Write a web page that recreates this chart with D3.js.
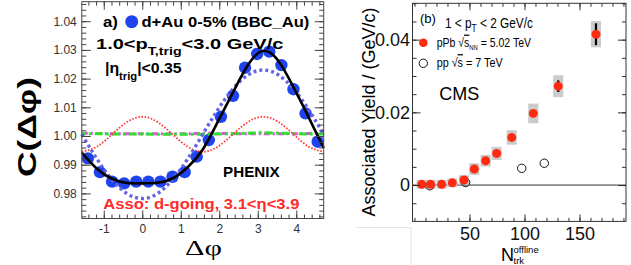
<!DOCTYPE html>
<meta charset="utf-8">
<title>Long-range correlations: PHENIX d+Au and CMS pPb</title>
<style>
body { margin: 0; background: #fff; }
svg text { font-family: "Liberation Sans", Arial, Helvetica, sans-serif; }
.bold { font-weight: bold; }
</style>
<svg id="chart" width="631" height="265"></svg>
<script src="https://d3js.org/d3.v7.min.js"></script>
<script>

// ---- panel (a) data: C(dphi), PHENIX d+Au 0-5%
var dphi = [-1.414, -1.100, -0.785, -0.471, -0.157, 0.157, 0.471, 0.785, 1.100, 1.414,
            1.728, 2.042, 2.356, 2.670, 2.985, 3.299, 3.613, 3.927, 4.241, 4.555];
var corr = [0.9922, 0.9874, 0.9841, 0.9835, 0.9841, 0.9841, 0.9841, 0.9858, 0.9874, 0.9928,
            0.9986, 1.0067, 1.0140, 1.0238, 1.0286, 1.0294, 1.0247, 1.0163, 1.0079, 0.9980];

// fit curves on a grid of dphi values
var curveX = [-1.571, -1.178, -0.785, -0.393, 0, 0.393, 0.785, 1.178, 1.571,
              1.963, 2.356, 2.749, 3.142, 3.534, 3.927, 4.320, 4.712];
var fitTotal = [0.9942, 0.9886, 0.9851, 0.9836, 0.9835, 0.9837, 0.9852, 0.9891, 0.9953,
                1.0050, 1.0152, 1.0248, 1.0297, 1.0262, 1.0170, 1.0066, 0.9958];
var fitV1 = [1.0006, 0.9920, 0.9848, 0.9799, 0.9782, 0.9799, 0.9848, 0.9920, 1.0006,
             1.0092, 1.0164, 1.0213, 1.0230, 1.0213, 1.0164, 1.0092, 1.0006];
var fitV2 = [0.9945, 0.9963, 1.0006, 1.0049, 1.0067, 1.0049, 1.0006, 0.9963, 0.9945,
             0.9963, 1.0006, 1.0049, 1.0067, 1.0049, 1.0006, 0.9963, 0.9945];
var fitV3 = [1.0008, 1.0008, 1.0007, 1.0007, 1.0007, 1.0006, 1.0006, 1.0006, 1.0006,
             1.0007, 1.0008, 1.0010, 1.0011, 1.0010, 1.0008, 1.0007, 1.0007];
var fitV4 = [1.0010, 1.0009, 1.0008, 1.0008, 1.0008, 1.0008, 1.0008, 1.0008, 1.0009,
             1.0009, 1.0008, 1.0008, 1.0008, 1.0008, 1.0008, 1.0009, 1.0010];

var aYTicks = [0.98, 0.99, 1.00, 1.01, 1.02, 1.03, 1.04];
var aXTicks = [-1, 0, 1, 2, 3, 4];

// ---- panel (b) data: CMS associated yield
var pPbN = [6.5, 14.6, 24.7, 34.4, 45, 54.4, 64.7, 74.7, 88.4, 108, 130.7, 165];
var pPbY = [0.0002, 0.0002, 0.0002, 0.0006, 0.0014, 0.0044, 0.0067, 0.0087, 0.0131, 0.0197, 0.0272, 0.0415];
var pPbStat = [0, 0, 0, 0, 0, 0, 0, 0, 0.0004, 0.0006, 0.0016, 0.0030];
var pPbSys = [0.0012, 0.0012, 0.0012, 0.0012, 0.0013, 0.0016, 0.0016, 0.0018, 0.0020, 0.0027, 0.0030, 0.0036];
var ppN = [14, 46.5, 97.5, 118];
var ppY = [-0.0002, 0.0007, 0.0046, 0.0060];

var bYTicks = [0, 0.02, 0.04];
var bXTicks = [50, 100, 150];

var svg = d3.select("#chart");

// squeeze/stretch a text element so that it spans w pixels
function fit(t, x, y, w) {
  var bw = t.node().getBBox().width;
  t.attr("transform", "translate(" + x + "," + y + ") scale(" + (w / bw) + ",1)");
  return t;
}

// =========================== panel (a)
var xa = d3.scaleLinear().domain([-Math.PI / 2, 3 * Math.PI / 2]).range([81.8, 323.7]);
var ya = d3.scaleLinear().domain([0.97125, 1.0468]).range([218.5, 1.7]);

var ga = svg.append("g");

function inwardAxes(g, xs, ys, o) {
  var x0 = xs.range()[0], x1 = xs.range()[1], y0 = ys.range()[0], y1 = ys.range()[1];
  var sides = [
    [d3.axisBottom, "translate(0," + y0 + ")", 1, xs],
    [d3.axisTop, "translate(0," + y1 + ")", 0, xs],
    [d3.axisLeft, "translate(" + x0 + ",0)", 1, ys],
    [d3.axisRight, "translate(" + x1 + ",0)", 0, ys]
  ];
  sides.forEach(function(s, i) {
    var isX = i < 2;
    var len = isX ? o.xLen : o.yLen;
    var major = s[0](s[3]).tickValues(isX ? o.xMajor : o.yMajor).tickSize(-len);
    if (s[2]) major.tickPadding(isX ? o.xPad : o.yPad).tickFormat(isX ? o.xFmt : o.yFmt);
    else major.tickFormat("");
    var gg = g.append("g").attr("transform", s[1]).call(major);
    gg.select(".domain").remove();
    gg.selectAll("text").attr("fill", o.textColor).style("font-size", o.fontSize + "px")
        .style("font-family", '"Liberation Sans", Arial, sans-serif');

    var minor = s[0](s[3]).tickValues(isX ? o.xMinor : o.yMinor).tickSize(-len / 2).tickFormat("");
    g.append("g").attr("transform", s[1]).call(minor).select(".domain").remove();
  });
  g.selectAll(".tick line").attr("stroke", o.color);
  g.append("rect").attr("x", x0).attr("y", y1).attr("width", x1 - x0).attr("height", y0 - y1)
      .attr("fill", "none").attr("stroke", o.color).attr("stroke-width", 1);
}

var aYMinor = d3.range(0.972, 1.0466, 0.002);
var aXMinor = d3.range(-1.4, 4.71, 0.2);

// curves
var lineA = function(vals) {
  return d3.line().x(function(d, i) { return xa(curveX[i]); })
      .y(function(d) { return ya(d); }).curve(d3.curveNatural)(vals);
};

// markers
ga.selectAll(".pt").data(corr).enter().append("circle")
    .attr("cx", function(d, i) { return xa(dphi[i]); })
    .attr("cy", function(d) { return ya(d); })
    .attr("r", 6.2).attr("fill", "#1f44ee");

ga.append("path").attr("d", lineA(fitV4)).attr("fill", "none")
    .attr("stroke", "#e050e0").attr("stroke-width", 3).attr("stroke-dasharray", "6,3,2,3");
ga.append("path").attr("d", lineA(fitV3)).attr("fill", "none")
    .attr("stroke", "#33dd33").attr("stroke-width", 3).attr("stroke-dasharray", "8,3,3,3")
    .attr("stroke-dashoffset", 4);
ga.append("path").attr("d", lineA(fitV2)).attr("fill", "none")
    .attr("stroke", "#ff3c3c").attr("stroke-width", 1.8).attr("stroke-dasharray", "1.6,1.6");
ga.append("path").attr("d", lineA(fitV1)).attr("fill", "none")
    .attr("stroke", "#6464e4").attr("stroke-width", 3.4).attr("stroke-dasharray", "3,3");
ga.append("path").attr("d", lineA(fitTotal)).attr("fill", "none")
    .attr("stroke", "#000").attr("stroke-width", 2.6);

inwardAxes(ga, xa, ya, {
  xMajor: aXTicks, xMinor: aXMinor, yMajor: aYTicks, yMinor: aYMinor,
  xLen: 8, yLen: 9, xPad: 6, yPad: 5,
  xFmt: function(d) { return String(d); }, yFmt: d3.format(".2f"),
  color: "#444", textColor: "#333", fontSize: 12
});

// labels panel (a)
var cl = ga.append("text").attr("class", "bold").style("font-size", "25px").text("C(Δφ)");
cl.attr("transform", "translate(36,177) rotate(-90) scale(" + (100 / cl.node().getBBox().width) + ",1)");

fit(ga.append("text").style("font-family", '"Liberation Serif", serif').style("font-size", "21px")
    .text("Δφ"), 185, 255, 37);

fit(ga.append("text").attr("class", "bold").style("font-size", "15.5px").text("a)"), 103, 27, 15);
ga.append("circle").attr("cx", 131.7).attr("cy", 21.7).attr("r", 6.5).attr("fill", "#1f44ee");
fit(ga.append("text").attr("class", "bold").style("font-size", "15.5px").text("d+Au 0-5% (BBC_Au)"),
    141.5, 27, 168);

var t2 = ga.append("text").attr("class", "bold").style("font-size", "15.5px");
t2.append("tspan").text("1.0<p");
t2.append("tspan").attr("dy", 6).style("font-size", "11px").text("T,trig");
t2.append("tspan").attr("dy", -6).text("<3.0 GeV/c");
fit(t2, 96, 48.5, 188);

var t3 = ga.append("text").attr("class", "bold").style("font-size", "15.5px");
t3.append("tspan").text("|η");
t3.append("tspan").attr("dy", 7).style("font-size", "11px").text("trig");
t3.append("tspan").attr("dy", -7).text("|<0.35");
fit(t3, 105, 73, 77);

fit(ga.append("text").attr("class", "bold").style("font-size", "14.5px").text("PHENIX"), 223, 176.5, 57);
fit(ga.append("text").attr("class", "bold").style("font-size", "15.5px").attr("fill", "#ff2a2a")
    .text("Asso: d-going, 3.1<η<3.9"), 103.3, 208.5, 196.7);

// =========================== panel (b)
var xb = d3.scaleLinear().domain([-1.8, 192.3]).range([412.5, 626]);
var yb = d3.scaleLinear().domain([-0.01, 0.05]).range([221.4, 3.3]);

var gb = svg.append("g");

// faint edge of the pasted figure
gb.append("path").attr("d", "M357,227.5H411V265").attr("fill", "none").attr("stroke", "#e4e4e4");

gb.append("line").attr("x1", xb.range()[0]).attr("x2", xb.range()[1])
    .attr("y1", yb(0)).attr("y2", yb(0)).attr("stroke", "#333").attr("stroke-width", 1);

gb.selectAll(".sys").data(pPbY).enter().append("rect")
    .attr("x", function(d, i) { return xb(pPbN[i] - 4.6); })
    .attr("width", function(d, i) { return xb(pPbN[i] + 4.6) - xb(pPbN[i] - 4.6); })
    .attr("y", function(d, i) { return yb(d + pPbSys[i]); })
    .attr("height", function(d, i) { return yb(d - pPbSys[i]) - yb(d + pPbSys[i]); })
    .attr("fill", "#cbcbcb");

gb.selectAll(".stat").data(pPbY).enter().append("line")
    .attr("x1", function(d, i) { return xb(pPbN[i]); })
    .attr("x2", function(d, i) { return xb(pPbN[i]); })
    .attr("y1", function(d, i) { return yb(d + pPbStat[i]); })
    .attr("y2", function(d, i) { return yb(d - pPbStat[i]); })
    .attr("stroke", "#000").attr("stroke-width", 2.2);

gb.selectAll(".pp").data(ppY).enter().append("circle")
    .attr("cx", function(d, i) { return xb(ppN[i]); })
    .attr("cy", function(d) { return yb(d); })
    .attr("r", 4.2).attr("fill", "none").attr("stroke", "#111").attr("stroke-width", 1);

gb.selectAll(".ppb").data(pPbY).enter().append("circle")
    .attr("cx", function(d, i) { return xb(pPbN[i]); })
    .attr("cy", function(d) { return yb(d); })
    .attr("r", 4.5).attr("fill", "#ff2a10");

inwardAxes(gb, xb, yb, {
  xMajor: bXTicks, xMinor: d3.range(0, 192, 10), yMajor: bYTicks,
  yMinor: d3.range(-0.005, 0.0501, 0.005),
  xLen: 7, yLen: 8, xPad: 6, yPad: 2.5,
  xFmt: function(d) { return String(d); }, yFmt: function(d) { return d === 0 ? "0" : d3.format(".2f")(d); },
  color: "#333", textColor: "#111", fontSize: 18
});

// y title
gb.append("text").style("font-size", "18px").attr("text-anchor", "middle")
    .attr("transform", "translate(375,112) rotate(-90)")
    .text("Associated Yield / (GeV/c)");

// x title
gb.append("text").style("font-size", "18px").attr("x", 501).attr("y", 261).text("N");
gb.append("text").style("font-size", "9.5px").attr("x", 513.5).attr("y", 253).text("offline");
gb.append("text").style("font-size", "9.5px").attr("x", 513.5).attr("y", 264).text("trk");

// legend
gb.append("text").style("font-size", "13px").attr("x", 420).attr("y", 23).text("(b)");
var tb = gb.append("text").style("font-size", "14px");
tb.append("tspan").text("1 < p");
tb.append("tspan").attr("dy", 4).style("font-size", "10px").text("T");
tb.append("tspan").attr("dy", -4).text(" < 2 GeV/c");
fit(tb, 445, 28, 88);

gb.append("circle").attr("cx", 423.3).attr("cy", 42.7).attr("r", 4.3).attr("fill", "#ff2a10");
var l1 = gb.append("text").style("font-size", "12.5px");
l1.append("tspan").text("pPb √");
l1.append("tspan").style("text-decoration", "overline").text("s");
l1.append("tspan").attr("dy", 3).style("font-size", "7px").text("NN");
l1.append("tspan").attr("dy", -3).text(" = 5.02 TeV");
fit(l1, 436.7, 46.5, 95);

gb.append("circle").attr("cx", 423.3).attr("cy", 63.3).attr("r", 4.2).attr("fill", "none")
    .attr("stroke", "#111").attr("stroke-width", 1);
var l2 = gb.append("text").style("font-size", "12.5px");
l2.append("tspan").text("pp √");
l2.append("tspan").style("text-decoration", "overline").text("s");
l2.append("tspan").text(" = 7 TeV");
fit(l2, 436.7, 67, 66.6);

gb.append("text").style("font-size", "18px").attr("x", 439.3).attr("y", 100).text("CMS");

</script>
